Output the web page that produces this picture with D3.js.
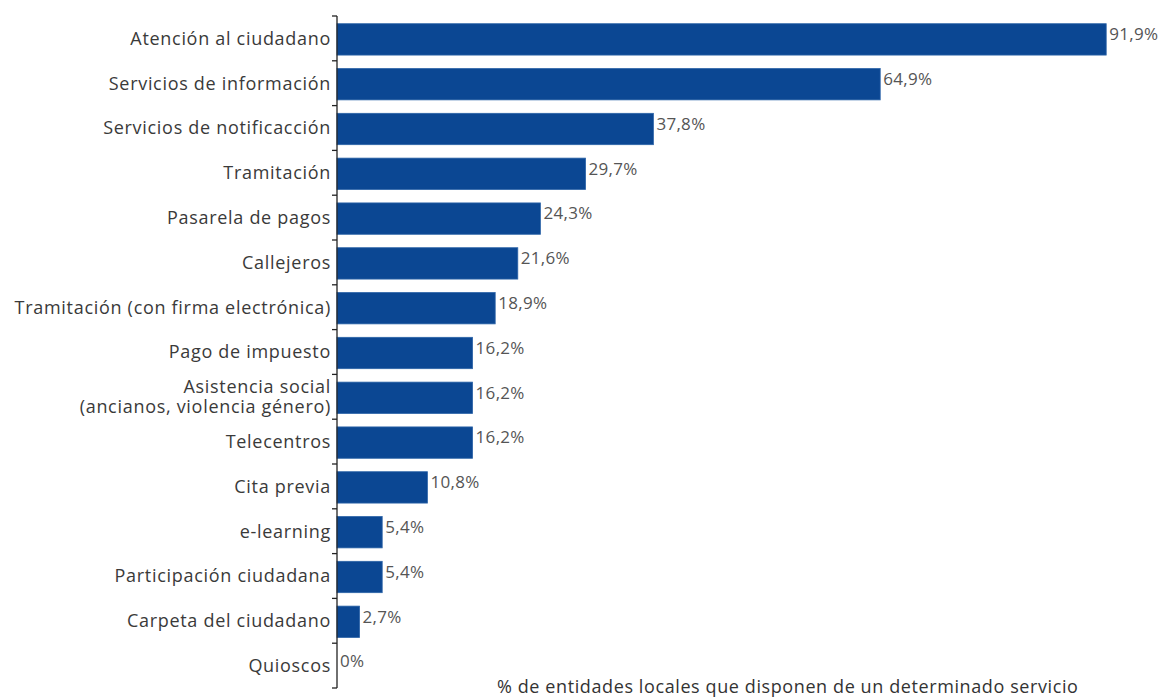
<!DOCTYPE html>
<html>
<head>
<meta charset="utf-8">
<script src="https://cdn.jsdelivr.net/npm/d3@7"></script>
<style>
  html, body { margin: 0; padding: 0; background: #ffffff; }
  svg { display: block; }
  text { font-family: "Open Sans", "Noto Sans", sans-serif; }
</style>
</head>
<body>
<svg id="chart" width="1164" height="698"></svg>
<script>
// Servicios electrónicos ofrecidos por las entidades locales
const categories = [
  ["Atención al ciudadano"],
  ["Servicios de información"],
  ["Servicios de notificacción"],
  ["Tramitación"],
  ["Pasarela de pagos"],
  ["Callejeros"],
  ["Tramitación (con firma electrónica)"],
  ["Pago de impuesto"],
  ["Asistencia social", "(ancianos, violencia género)"],
  ["Telecentros"],
  ["Cita previa"],
  ["e-learning"],
  ["Participación ciudadana"],
  ["Carpeta del ciudadano"],
  ["Quioscos"]
];
const values = [91.9, 64.9, 37.8, 29.7, 24.3, 21.6, 18.9, 16.2, 16.2, 16.2, 10.8, 5.4, 5.4, 2.7, 0];
const caption = "% de entidades locales que disponen de un determinado servicio";

const svg = d3.select("#chart");
const plotLeft = 337, plotRight = 1174, plotTop = 16, plotBottom = 688;

const x = d3.scaleLinear().domain([0, 100]).range([plotLeft, plotRight]);
const y = d3.scaleBand().domain(d3.range(categories.length)).range([plotTop, plotBottom]).paddingInner(0.3).paddingOuter(0.15);
const yb = d3.scaleBand().domain(d3.range(categories.length)).range([plotTop, plotBottom]);

const fmt = v => (v === 0 ? "0" : d3.format(".1f")(v).replace(".", ",")) + "%";

// bars
svg.append("g").selectAll("rect")
  .data(values)
  .join("rect")
  .attr("x", x(0))
  .attr("y", (d, i) => y(i) + 1)
  .attr("width", d => x(d) - x(0))
  .attr("height", y.bandwidth())
  .attr("fill", "#0b4793")
  .attr("stroke", "#2d64a8")
  .attr("stroke-width", 0.8);

// value labels
svg.append("g").selectAll("text")
  .data(values)
  .join("text")
  .attr("x", d => x(d) + 3)
  .attr("y", (d, i) => yb(i) + yb.bandwidth() / 2)
  .attr("dy", "0.1em")
  .attr("fill", "#555")
  .attr("font-size", 17)
  .attr("letter-spacing", "0.3")
  .text(fmt);

// category axis with boundary ticks between bands
const axis = svg.append("g").attr("stroke", "#222").attr("stroke-width", 1.3);
axis.append("line").attr("x1", plotLeft).attr("x2", plotLeft).attr("y1", plotTop).attr("y2", plotBottom);
axis.selectAll("line.tick")
  .data(d3.range(categories.length + 1))
  .join("line")
  .attr("class", "tick")
  .attr("x1", plotLeft - 5).attr("x2", plotLeft)
  .attr("y1", i => plotTop + i * yb.step())
  .attr("y2", i => plotTop + i * yb.step());

// category labels
const labels = svg.append("g").selectAll("text")
  .data(categories)
  .join("text")
  .attr("text-anchor", "end")
  .attr("x", plotLeft - 6)
  .attr("y", (d, i) => yb(i) + yb.bandwidth() / 2)
  .attr("fill", "#3a3a3a")
  .attr("font-size", 18)
  .attr("letter-spacing", "0.7");
labels.each(function(lines) {
  const t = d3.select(this);
  const n = lines.length;
  lines.forEach((line, k) => {
    t.append("tspan")
      .attr("x", plotLeft - 6)
      .attr("dy", k === 0 ? (0.35 - (n - 1) * 0.56) + "em" : "1.12em")
      .text(line);
  });
});

// caption
svg.append("text")
  .attr("x", 497)
  .attr("y", 693)
  .attr("fill", "#333")
  .attr("font-size", 18)
  .attr("letter-spacing", "0.6")
  .text(caption);
</script>
</body>
</html>
